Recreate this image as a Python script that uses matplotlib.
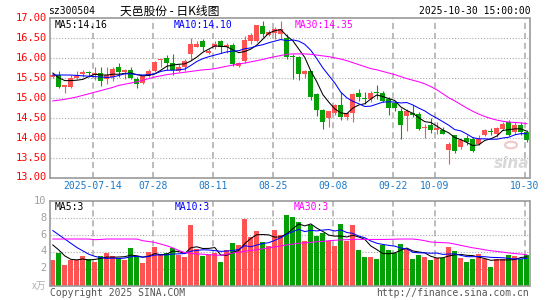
import matplotlib
matplotlib.use('Agg')
import matplotlib.pyplot as plt

plt.rcParams['font.family'] = ['DejaVu Sans Mono', 'Noto Sans CJK SC']

# ---- daily K-line data (80 trading days, 07-03 .. 10-30)
opens = [15.53, 15.58, 15.28, 15.28, 15.50, 15.60, 15.63, 15.56, 15.62, 15.47,
         15.52, 15.77, 15.64, 15.70, 15.47, 15.38, 15.55, 15.68, 15.95, 16.00,
         15.87, 15.68, 15.77, 16.10, 16.28, 16.42, 16.13, 16.27, 16.42, 16.28,
         16.33, 15.80, 15.93, 16.42, 16.43, 16.81, 16.58, 16.62, 16.60, 16.50,
         16.05, 16.02, 15.60, 15.67, 15.10, 14.70, 14.50, 14.62, 14.81, 14.52,
         14.62, 15.12, 14.98, 14.97, 15.13, 15.12, 14.97, 14.88, 14.67, 14.53,
         14.61, 14.60, 14.24, 14.31, 14.20, 14.20, 13.68, 14.06, 13.77, 13.99,
         13.97, 13.83, 14.06, 14.15, 14.08, 14.22, 14.39, 14.14, 14.31, 14.13]
closes = [15.58, 15.27, 15.31, 15.50, 15.56, 15.64, 15.62, 15.62, 15.43, 15.56,
          15.72, 15.64, 15.70, 15.50, 15.35, 15.55, 15.68, 15.90, 15.96, 15.87,
          15.70, 15.77, 15.93, 16.35, 16.36, 16.27, 16.17, 16.35, 16.28, 16.33,
          15.85, 15.86, 16.46, 16.58, 16.83, 16.60, 16.64, 16.73, 16.73, 16.03,
          16.02, 15.60, 15.67, 15.03, 14.70, 14.39, 14.67, 14.81, 14.52, 14.62,
          15.10, 15.03, 14.97, 15.13, 15.12, 14.92, 14.75, 14.75, 14.31, 14.68,
          14.57, 14.21, 14.25, 14.18, 14.25, 14.08, 13.85, 13.66, 13.93, 13.89,
          13.66, 13.97, 14.20, 14.14, 14.23, 14.35, 14.06, 14.31, 14.14, 13.93]
highs = [15.62, 15.66, 15.32, 15.56, 15.68, 15.70, 15.68, 15.78, 15.77, 15.77,
         15.78, 15.88, 15.72, 15.77, 15.52, 15.58, 15.72, 15.93, 15.97, 16.08,
         16.10, 15.85, 15.97, 16.50, 16.43, 16.48, 16.22, 16.43, 16.46, 16.37,
         16.37, 15.90, 16.56, 16.62, 16.83, 16.92, 16.70, 16.77, 16.93, 16.60,
         16.10, 16.05, 15.70, 15.68, 15.12, 14.72, 14.68, 14.85, 15.14, 14.63,
         15.12, 15.22, 15.15, 15.16, 15.31, 15.18, 15.02, 14.93, 14.75, 14.72,
         14.81, 14.64, 14.35, 14.48, 14.39, 14.27, 13.89, 14.06, 13.97, 14.06,
         14.02, 14.06, 14.22, 14.25, 14.27, 14.39, 14.45, 14.39, 14.39, 14.18]
lows = [15.50, 15.24, 15.13, 15.25, 15.48, 15.52, 15.53, 15.45, 15.30, 15.35,
        15.43, 15.52, 15.47, 15.47, 15.24, 15.35, 15.52, 15.64, 15.77, 15.70,
        15.57, 15.64, 15.68, 15.95, 16.27, 16.18, 16.10, 16.22, 16.13, 16.13,
        15.80, 15.77, 15.88, 16.35, 16.39, 16.52, 16.56, 16.48, 16.47, 15.98,
        15.47, 15.45, 15.50, 14.95, 14.55, 14.22, 14.27, 14.57, 14.43, 14.43,
        14.38, 14.92, 14.85, 14.90, 14.97, 14.89, 14.56, 14.68, 13.97, 14.16,
        14.52, 14.20, 14.00, 14.12, 14.10, 14.08, 13.33, 13.62, 13.72, 13.81,
        13.64, 13.81, 14.03, 14.06, 14.02, 14.18, 14.03, 14.10, 14.06, 13.89]

ma5 = [15.62, 15.50, 15.43, 15.43, 15.44, 15.46, 15.53, 15.59, 15.57, 15.57,
       15.59, 15.59, 15.61, 15.62, 15.58, 15.55, 15.56, 15.60, 15.69, 15.79,
       15.82, 15.84, 15.85, 15.92, 16.02, 16.14, 16.22, 16.30, 16.29, 16.28,
       16.20, 16.13, 16.16, 16.22, 16.32, 16.47, 16.62, 16.68, 16.71, 16.55,
       16.43, 16.22, 16.01, 15.67, 15.40, 15.08, 14.89, 14.72, 14.62, 14.60,
       14.74, 14.82, 14.85, 14.97, 15.07, 15.03, 14.98, 14.93, 14.77, 14.68,
       14.61, 14.50, 14.40, 14.38, 14.29, 14.19, 14.12, 14.00, 13.95, 13.88,
       13.80, 13.82, 13.93, 13.97, 14.04, 14.18, 14.20, 14.22, 14.22, 14.16]
ma10 = [15.57, 15.57, 15.57, 15.57, 15.56, 15.55, 15.54, 15.53, 15.52, 15.51,
        15.52, 15.56, 15.60, 15.60, 15.58, 15.57, 15.58, 15.60, 15.66, 15.69,
        15.69, 15.70, 15.72, 15.81, 15.91, 15.98, 16.03, 16.07, 16.11, 16.15,
        16.17, 16.18, 16.23, 16.25, 16.30, 16.33, 16.38, 16.42, 16.46, 16.43,
        16.45, 16.42, 16.34, 16.19, 15.98, 15.75, 15.56, 15.37, 15.14, 15.00,
        14.91, 14.85, 14.78, 14.79, 14.84, 14.89, 14.90, 14.89, 14.87, 14.88,
        14.82, 14.74, 14.67, 14.57, 14.49, 14.40, 14.31, 14.20, 14.17, 14.09,
        14.00, 13.97, 13.97, 13.96, 13.96, 13.99, 14.01, 14.07, 14.10, 14.10]
ma30 = [14.92, 14.94, 14.96, 14.99, 15.02, 15.06, 15.10, 15.14, 15.18, 15.22,
        15.26, 15.31, 15.34, 15.37, 15.40, 15.44, 15.48, 15.52, 15.55, 15.58,
        15.60, 15.62, 15.64, 15.66, 15.68, 15.70, 15.71, 15.73, 15.76, 15.79,
        15.82, 15.85, 15.87, 15.90, 15.93, 15.96, 16.00, 16.03, 16.06, 16.09,
        16.10, 16.10, 16.10, 16.09, 16.07, 16.05, 16.03, 16.00, 15.97, 15.93,
        15.88, 15.83, 15.78, 15.73, 15.70, 15.66, 15.62, 15.58, 15.53, 15.48,
        15.44, 15.40, 15.35, 15.28, 15.20, 15.10, 15.00, 14.92, 14.83, 14.74,
        14.66, 14.59, 14.53, 14.48, 14.44, 14.41, 14.39, 14.38, 14.37, 14.35]

# volume (x万)
volumes = [2.98, 3.80, 2.40, 2.98, 2.98, 3.53, 3.18, 2.79, 3.53, 3.80,
           3.45, 3.29, 2.98, 4.42, 3.45, 2.64, 3.91, 4.50, 3.72, 3.80,
           4.46, 3.57, 3.33, 7.21, 4.34, 3.45, 3.64, 3.80, 2.75, 4.26,
           5.08, 4.84, 7.87, 5.78, 6.47, 5.19, 4.65, 6.51, 5.97, 8.33,
           8.10, 7.52, 5.31, 7.21, 5.81, 6.16, 5.31, 4.73, 7.29, 5.23,
           7.17, 4.26, 3.37, 3.37, 3.10, 4.81, 4.15, 3.88, 4.96, 4.34,
           3.10, 3.57, 3.33, 2.98, 3.26, 3.26, 4.61, 4.03, 3.22, 2.75,
           3.10, 3.68, 3.18, 2.17, 3.10, 3.10, 3.64, 3.45, 3.18, 3.57]
vol_ma5 = [4.80, 4.20, 3.50, 3.10, 3.03, 3.14, 3.01, 3.09, 3.20, 3.37,
           3.35, 3.37, 3.41, 3.59, 3.52, 3.36, 3.48, 3.78, 3.64, 3.71,
           4.08, 4.01, 3.78, 4.47, 4.58, 4.38, 4.39, 4.49, 3.60, 3.58,
           3.91, 4.15, 4.96, 5.57, 6.01, 6.03, 5.99, 5.72, 5.76, 6.13,
           6.71, 7.29, 7.05, 7.29, 6.79, 6.40, 5.96, 5.84, 5.86, 5.74,
           5.95, 5.74, 5.46, 4.68, 4.25, 3.78, 3.76, 3.86, 4.18, 4.43,
           4.09, 3.97, 3.86, 3.46, 3.25, 3.28, 3.49, 3.63, 3.68, 3.57,
           3.54, 3.36, 3.19, 2.98, 3.03, 3.03, 3.02, 3.07, 3.31, 3.40]
vol_ma10 = [6.50, 6.00, 5.50, 5.00, 4.50, 4.10, 3.70, 3.45, 3.30, 3.20,
            3.24, 3.19, 3.25, 3.40, 3.44, 3.35, 3.43, 3.60, 3.62, 3.62,
            3.72, 3.75, 3.78, 4.06, 4.15, 4.23, 4.20, 4.13, 4.04, 4.08,
            4.14, 4.27, 4.72, 4.58, 4.79, 4.97, 5.07, 5.34, 5.66, 6.07,
            6.37, 6.64, 6.38, 6.53, 6.46, 6.56, 6.62, 6.45, 6.58, 6.27,
            6.17, 5.85, 5.65, 5.27, 5.00, 4.86, 4.75, 4.66, 4.43, 4.34,
            3.93, 3.87, 3.86, 3.82, 3.84, 3.68, 3.73, 3.74, 3.57, 3.41,
            3.41, 3.42, 3.41, 3.33, 3.31, 3.29, 3.20, 3.14, 3.14, 3.22]
vol_ma30 = [5.50, 5.50, 5.50, 5.50, 5.50, 5.50, 5.50, 5.42, 5.45, 5.50,
            5.50, 5.50, 5.50, 5.50, 5.50, 5.30, 5.20, 5.10, 4.90, 4.70,
            4.45, 4.15, 3.90, 3.80, 3.75, 3.70, 3.65, 3.60, 3.58, 3.70,
            3.85, 3.95, 4.05, 4.15, 4.22, 4.35, 4.45, 4.55, 4.70, 4.80,
            4.90, 5.00, 5.05, 5.10, 5.18, 5.22, 5.30, 5.35, 5.40, 5.42,
            5.45, 5.47, 5.45, 5.45, 5.45, 5.45, 5.46, 5.48, 5.50, 5.50,
            5.50, 5.42, 5.30, 5.15, 5.10, 5.07, 5.04, 4.90, 4.75, 4.60,
            4.46, 4.35, 4.22, 4.12, 4.03, 3.95, 3.85, 3.78, 3.72, 3.65]

date_labels = ['2025-07-14', '07-28', '08-11', '08-25', '09-08', '09-22', '10-09', '10-30']
date_idx = [7, 17, 27, 37, 47, 57, 64, 79]
price_ticks = [13.0, 13.5, 14.0, 14.5, 15.0, 15.5, 16.0, 16.5, 17.0]
vol_ticks = [2, 4, 6, 8, 10]

RED = '#ff5252'
GREEN = '#05a005'
GRID = '#aaaaaa'
W, H = 545, 300


def fx(x):
    return x / W


def fy(y):
    return 1 - y / H


fig = plt.figure(figsize=(W / 100, H / 100), dpi=100)
fig.patch.set_facecolor('white')

n = len(closes)
xs = list(range(n))
x_lo, x_hi = -0.47, 79.45

# ---- price panel
ax = fig.add_axes([fx(50), fy(177.5), (529.5 - 50) / W, (177.5 - 18) / H])
ax.set_xlim(x_lo, x_hi)
ax.set_ylim(13, 17)
for p in price_ticks[1:-1]:
    ax.axhline(p, color=GRID, lw=0.8, ls=(0, (1, 1.6)), zorder=0)
for i in date_idx:
    ax.axvline(i - 0.35, color=GRID, lw=1.1, ls=(0, (4, 2.5)), zorder=0)

for i in xs:
    o, c, h, l = opens[i], closes[i], highs[i], lows[i]
    col = RED if c >= o else GREEN
    ax.vlines(i, l, h, color=col, lw=0.8, zorder=2)
    ax.bar(i, max(abs(c - o), 0.02), bottom=min(o, c), width=0.8, color=col, lw=0, zorder=3)

ax.plot(xs, ma5, color='black', lw=0.75, zorder=4)
ax.plot(xs, ma10, color='#0000ff', lw=0.75, zorder=4)
ax.plot(xs, ma30, color='#ff00ff', lw=0.75, zorder=4)

ax.text(0.5 / 479.5, 1, '', transform=ax.transAxes)
ax.set_xticks([])
ax.set_yticks([])
for s in ax.spines.values():
    s.set_color('#999999')
    s.set_linewidth(1.2)

# sina watermark
fig.text(fx(512), fy(163), 'sina', color='#d8d8d8', fontsize=11, fontweight='bold',
         fontstyle='italic', family='DejaVu Sans', ha='center', va='center')
fig.patches.append(plt.Circle((fx(511), fy(145)), 0.011, transform=fig.transFigure,
                              facecolor='none', edgecolor='#f0c8c8', lw=1.5))

# ---- volume panel
ax2 = fig.add_axes([fx(50), fy(285.5), (529.5 - 50) / W, (285.5 - 201) / H])
ax2.set_xlim(x_lo, x_hi)
ax2.set_ylim(0, 84.5 / 8.45)
for v in vol_ticks[:-1]:
    ax2.axhline(v, color=GRID, lw=0.8, ls=(0, (1, 1.6)), zorder=0)
for i in date_idx:
    ax2.axvline(i - 0.35, color=GRID, lw=1.1, ls=(0, (4, 2.5)), zorder=0)
vcols = [RED if closes[i] >= opens[i] else GREEN for i in xs]
ax2.bar(xs, volumes, width=0.8, color=vcols, lw=0, zorder=2)
ax2.plot(xs, vol_ma5, color='black', lw=0.75, zorder=4)
ax2.plot(xs, vol_ma10, color='#0000ff', lw=0.75, zorder=4)
ax2.plot(xs, vol_ma30, color='#ff00ff', lw=0.75, zorder=4)
ax2.set_xticks([])
ax2.set_yticks([])
for s in ax2.spines.values():
    s.set_color('#999999')
    s.set_linewidth(1.2)

# ---- texts
fig.text(fx(48), fy(11), 'sz300504', fontsize=7, color='black', va='center')
fig.text(fx(120), fy(11), '天邑股份 - 日K线图', fontsize=8.5, color='black', va='center',
         family=['Noto Sans CJK SC', 'DejaVu Sans'])
fig.text(fx(531), fy(11), '2025-10-30 15:00:00', fontsize=7, color='black', va='center', ha='right')

fig.text(fx(55), fy(25), 'MA5:14.16', fontsize=7, color='black', va='center')
fig.text(fx(174), fy(25), 'MA10:14.10', fontsize=7, color='#0000ff', va='center')
fig.text(fx(295), fy(25), 'MA30:14.35', fontsize=7, color='#ff00ff', va='center')

for p in price_ticks:
    y = 177.5 - (p - 13) * (177.5 - 18) / 4
    fig.text(fx(46.5), fy(y), '%.2f' % p, fontsize=7.5, color='#ff0000', va='center', ha='right')

for lab, i in zip(date_labels, date_idx):
    x = 52.8 + 6 * (i - 0.35)
    fig.text(fx(x), fy(186), lab, fontsize=7, color='#1a78c8', va='center', ha='center')

fig.text(fx(55), fy(207), 'MA5:3', fontsize=7, color='black', va='center')
fig.text(fx(175), fy(207), 'MA10:3', fontsize=7, color='#0000ff', va='center')
fig.text(fx(294), fy(207), 'MA30:3', fontsize=7, color='#ff00ff', va='center')

for v in vol_ticks:
    y = 285.3 - v * 8.45
    fig.text(fx(46.5), fy(y), str(v), fontsize=7.5, color='#a0a0a0', va='center', ha='right')
fig.text(fx(46), fy(286), 'x万', fontsize=7, color='#b0b0b0', va='center', ha='right',
         family=['Noto Sans CJK SC', 'DejaVu Sans'])

fig.text(fx(50), fy(292.5), 'Copyright 2025 SINA.COM', fontsize=7, color='#555555', va='center')
fig.text(fx(529), fy(292.5), 'http://finance.sina.com.cn', fontsize=7, color='#555555',
         va='center', ha='right')

fig.savefig('out.png', dpi=100)
